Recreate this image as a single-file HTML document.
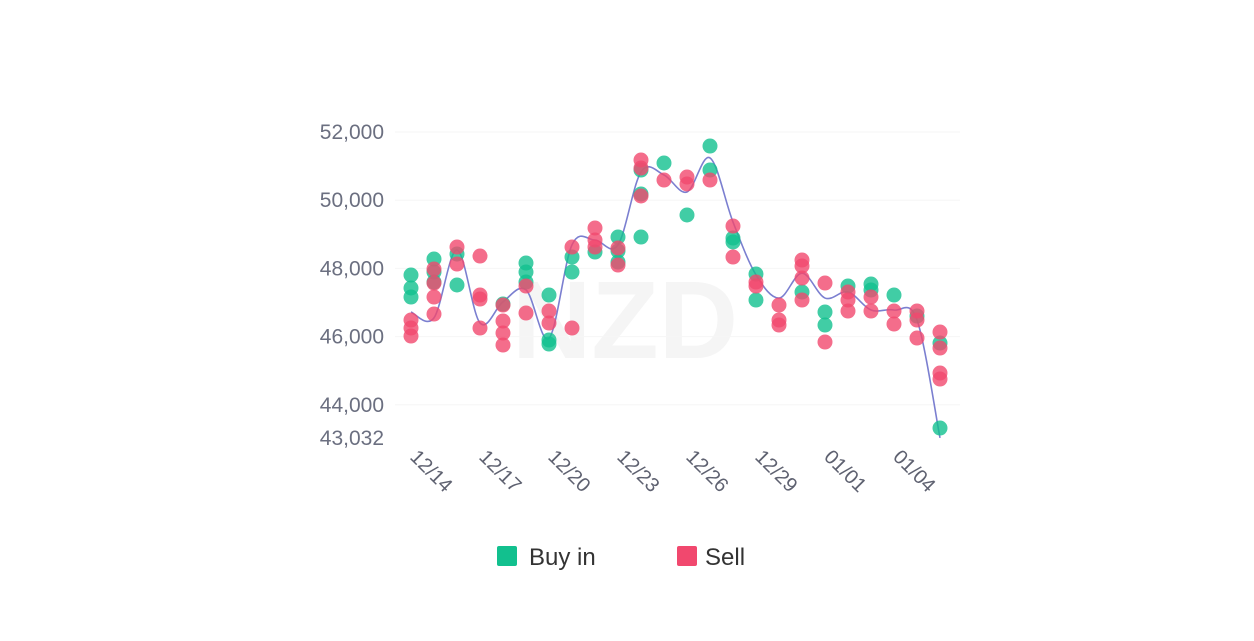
<!DOCTYPE html>
<html><head><meta charset="utf-8"><style>
html,body{margin:0;padding:0;background:#fff;}
svg{display:block;font-family:"Liberation Sans",sans-serif;}
</style></head><body>
<svg id="chart" width="1254" height="641">
<text x="625" y="358" text-anchor="middle" font-size="110" font-weight="bold" fill="#f5f5f5">NZD</text>
<g id="grid"></g><g id="line"></g><g id="pts"></g><g id="axes"></g>
<g>
<rect x="497" y="546" width="20" height="20" rx="2" fill="#12c08e"/>
<text x="529" y="565" font-size="24" fill="#333">Buy in</text>
<rect x="677" y="546" width="20" height="20" rx="2" fill="#f1486e"/>
<text x="705" y="565" font-size="24" fill="#333">Sell</text>
</g>
</svg>
<script>
const dates=["12/14","12/15","12/16","12/17","12/18","12/19","12/20","12/21","12/22","12/23","12/24","12/25","12/26","12/27","12/28","12/29","12/30","12/31","01/01","01/02","01/03","01/04","01/05","01/06"];
const tickLabels=["12/14","12/17","12/20","12/23","12/26","12/29","01/01","01/04"];
const yTicks=[52000,50000,48000,46000,44000,43032];
const lineValues=[46720,46550,48540,46400,47020,47370,45950,48690,48830,48690,50830,50740,50240,51240,49360,47810,47130,47860,47130,47310,46780,46780,46490,43030];
const buyValues=[[47806,47425,47161],[48275,47894,47600],[48422,47513],[],[46955],[48158,47894,47600],[47219,45899,45782],[48334,47894],[48480],[48920,48510,48187],[50885,50182,48920],[51091],[49566],[51589,50885],[48891,48774],[47835,47073],[],[47307],[46721,46339],[47483],[47542,47366],[47219],[46603],[45811,43318]];
const sellValues=[[46486,46251,46017],[47982,47571,47161,46662],[48627,48128],[48363,47219,47102,46251],[46925,46457,46105,45753],[47483,46691],[46750,46398],[48627,46251],[49184,48832,48627],[48598,48099],[51179,50944,50123],[50592],[50680,50475],[50592],[49243,48334],[47600,47483],[46925,46486,46339],[48246,48070,47718,47073],[47571,45841],[47307,47073,46750],[47161,46750],[46750,46369],[46750,46486,45958],[46134,45665,44931,44756]];
const NS="http://www.w3.org/2000/svg";
function X(i){return 411+i*23;}
function Y(v){return 132+(52000-v)*0.0341;}
function mk(tag,attrs,parent){const e=document.createElementNS(NS,tag);for(const k in attrs)e.setAttribute(k,attrs[k]);parent.appendChild(e);return e;}
const grid=document.getElementById('grid'),axes=document.getElementById('axes');
yTicks.forEach(v=>{
 if(v%2000===0){const g=mk('line',{x1:395,x2:960,y1:Y(v),y2:Y(v),stroke:'#f6f6f6','stroke-width':1},grid);
 
 }
 const t=mk('text',{x:384,y:Y(v)+7,'text-anchor':'end','font-size':21,fill:'#6b6f80'},axes);
 t.textContent=v.toLocaleString('en-US');
 
 
});
tickLabels.forEach(l=>{
 const i=dates.indexOf(l);const x=X(i)-2,y=458;
 const t=mk('text',{x:x,y:y,'font-size':20,fill:'#5e6170',transform:`rotate(45 ${x} ${y})`},axes);
 t.textContent=l;
 
 
});
const P=lineValues.map((v,i)=>[X(i),Y(v)]);
let d=`M${P[0][0]},${P[0][1]}`;
for(let i=0;i<P.length-1;i++){const p0=P[Math.max(0,i-1)],p1=P[i],p2=P[i+1],p3=P[Math.min(P.length-1,i+2)];
 const c1=[p1[0]+(p2[0]-p0[0])/6,p1[1]+(p2[1]-p0[1])/6],c2=[p2[0]-(p3[0]-p1[0])/6,p2[1]-(p3[1]-p1[1])/6];
 d+=` C${c1[0]},${c1[1]} ${c2[0]},${c2[1]} ${p2[0]},${p2[1]}`;}
const ln=mk('path',{d:d,fill:'none',stroke:'#7b7fd0','stroke-width':1.6},document.getElementById('line'));


const pts=document.getElementById('pts');
dates.forEach((dt,i)=>{
 buyValues[i].forEach(v=>{const c=mk('circle',{cx:X(i),cy:Y(v),r:7.5,fill:'#12c08e','fill-opacity':0.8},pts);
  
  });
 sellValues[i].forEach(v=>{const c=mk('circle',{cx:X(i),cy:Y(v),r:7.5,fill:'#f1486e','fill-opacity':0.8},pts);
  
  });
});
</script>
</body></html>
